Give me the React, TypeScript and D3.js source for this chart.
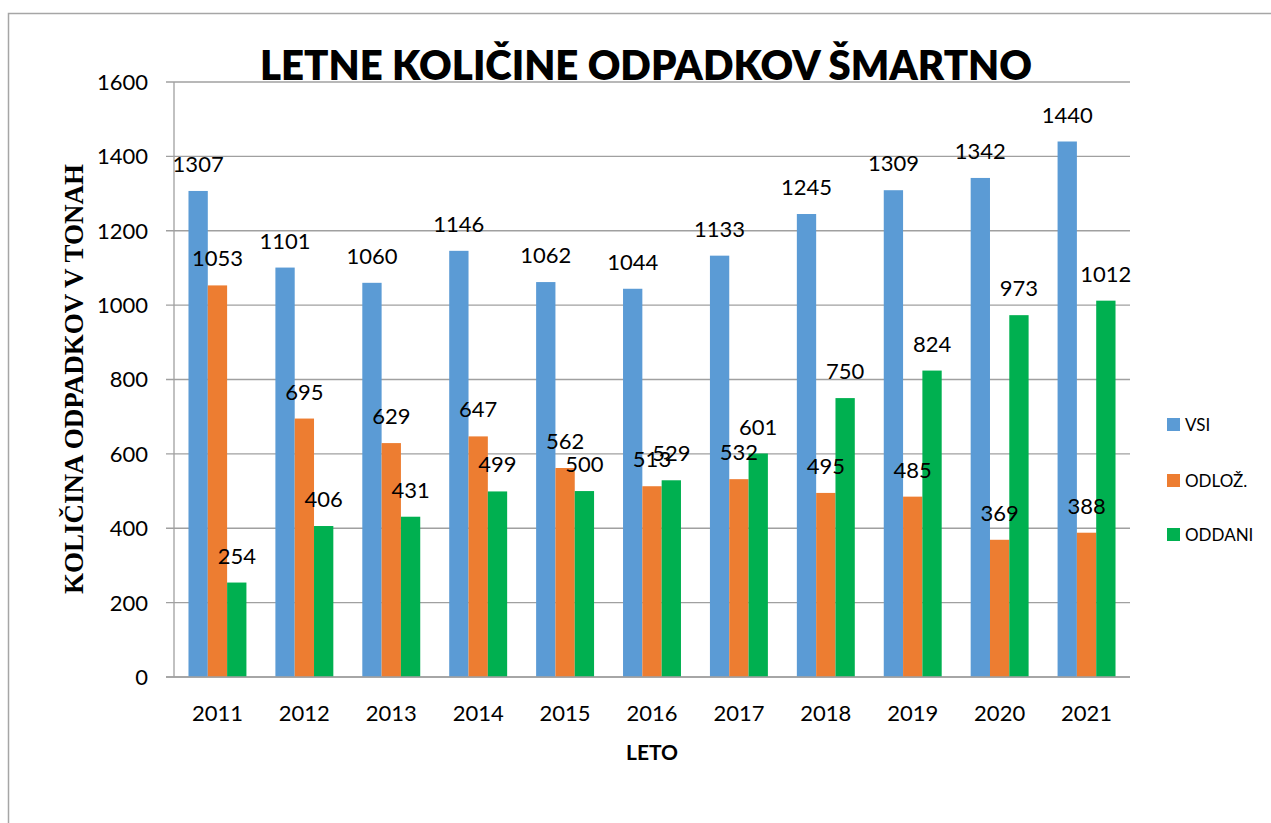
import React from "react";
import * as d3 from "d3";

const years = ["2011", "2012", "2013", "2014", "2015", "2016", "2017", "2018", "2019", "2020", "2021"];
const vsi = [1307, 1101, 1060, 1146, 1062, 1044, 1133, 1245, 1309, 1342, 1440];
const odloz = [1053, 695, 629, 647, 562, 513, 532, 495, 485, 369, 388];
const oddani = [254, 406, 431, 499, 500, 529, 601, 750, 824, 973, 1012];
const seriesNames = ["VSI", "ODLOŽ.", "ODDANI"];
const seriesColors = ["#5B9BD5", "#ED7D31", "#00B050"];
const yTicks = [0, 200, 400, 600, 800, 1000, 1200, 1400, 1600];

const W = 1271;
const H = 823;
const left = 174;
const right = 1130;
const top = 82;
const bottom = 677;
const font = "Lato, 'Open Sans', sans-serif";

export default function App() {
  const series = [vsi, odloz, oddani];
  const x = d3.scaleBand<string>().domain(years).range([left, right]).paddingInner(0).paddingOuter(0);
  const y = d3.scaleLinear().domain([0, 1600]).range([bottom, top]);
  const groupW = x.bandwidth() * (3 / 4.5);
  const x1 = d3
    .scaleBand<number>()
    .domain([0, 1, 2])
    .range([(x.bandwidth() - groupW) / 2, (x.bandwidth() + groupW) / 2]);

  return (
    <svg width={W} height={H} style={{ position: "absolute", left: 0, top: 0, background: "#fff" }}>
      <rect x={8.5} y={13.5} width={1300} height={900} fill="#fff" stroke="#a6a6a6" strokeWidth={1.5} />
      <text x={646} y={80} textAnchor="middle" fontFamily={font} fontWeight={800} fontSize={42} textLength={772} lengthAdjust="spacingAndGlyphs" fill="#000">
        LETNE KOLIČINE ODPADKOV ŠMARTNO
      </text>
      {yTicks.map((t) => (
        <g key={t}>
          <line x1={166} x2={right} y1={y(t)} y2={y(t)} stroke="#a0a0a0" strokeWidth={1.3} />
          <text x={148} y={y(t)} dy="0.36em" textAnchor="end" fontFamily={font} fontSize={22} fill="#000">
            {t}
          </text>
        </g>
      ))}
      <line x1={left} x2={left} y1={top} y2={bottom} stroke="#a0a0a0" strokeWidth={1.3} />
      {series.map((vals, si) =>
        vals.map((v, i) => {
          const bx = (x(years[i]) as number) + (x1(si) as number);
          return (
            <rect
              key={`${si}-${i}`}
              x={bx}
              y={y(v)}
              width={x1.bandwidth()}
              height={bottom - y(v)}
              fill={seriesColors[si]}
            />
          );
        })
      )}
      <line x1={166} x2={right} y1={bottom} y2={bottom} stroke="#a0a0a0" strokeWidth={1.3} />
      {series.map((vals, si) =>
        vals.map((v, i) => {
          const cx = (x(years[i]) as number) + (x1(si) as number) + x1.bandwidth() / 2;
          return (
            <text
              key={`l-${si}-${i}`}
              x={cx}
              y={y(v) - 19}
              textAnchor="middle"
              fontFamily={font}
              fontSize={22}
              fill="#000"
            >
              {v}
            </text>
          );
        })
      )}
      {years.map((yr) => (
        <text
          key={yr}
          x={(x(yr) as number) + x.bandwidth() / 2}
          y={721}
          textAnchor="middle"
          fontFamily={font}
          fontSize={22}
          fill="#000"
        >
          {yr}
        </text>
      ))}
      <text x={652} y={760} textAnchor="middle" fontFamily={font} fontWeight={700} fontSize={21} fill="#000">
        LETO
      </text>
      <text
        transform={`translate(83,379) rotate(-90)`}
        textAnchor="middle"
        fontFamily="'Liberation Serif', 'Times New Roman', serif"
        fontWeight={700}
        fontSize={27}
        fill="#000"
      >
        KOLIČINA ODPADKOV V TONAH
      </text>
      {seriesNames.map((n, i) => {
        const ly = [418, 474, 528][i];
        return (
          <g key={n}>
            <rect x={1167} y={ly} width={13} height={13} fill={seriesColors[i]} />
            <text x={1185} y={ly + 6.5} dy="0.36em" fontFamily={font} fontSize={17} fill="#000">
              {n}
            </text>
          </g>
        );
      })}
    </svg>
  );
}
